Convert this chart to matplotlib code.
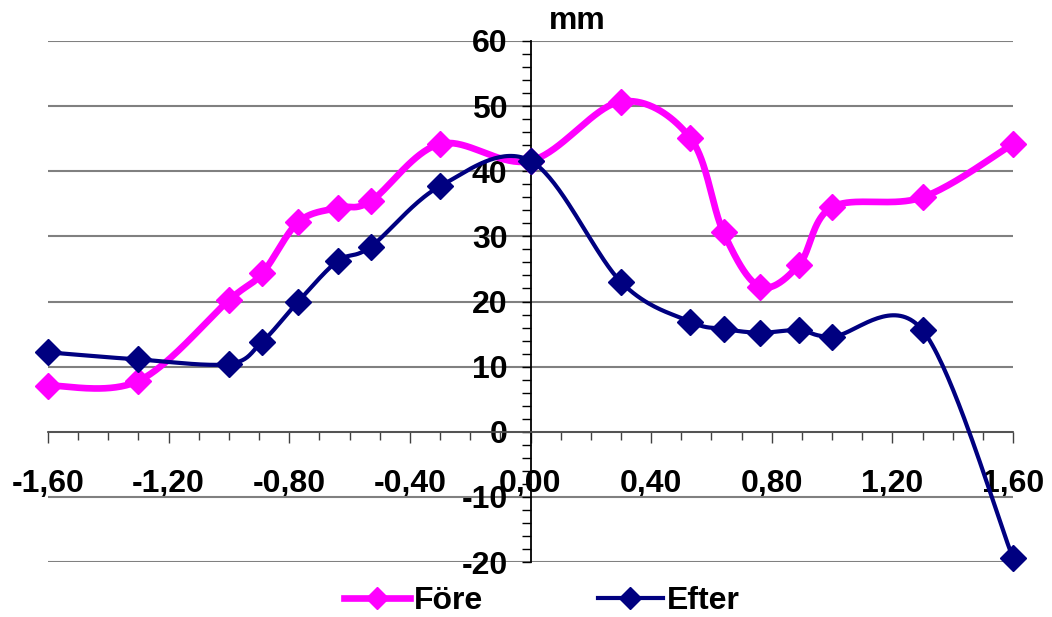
import numpy as np
import matplotlib
matplotlib.use("Agg")
import matplotlib.pyplot as plt
from matplotlib.ticker import MultipleLocator, FuncFormatter

plt.rcParams["font.family"] = ["Liberation Sans", "DejaVu Sans"]
plt.rcParams["font.weight"] = "bold"

# Data
x_vals = [-1.60, -1.30, -1.00, -0.89, -0.77, -0.64, -0.53, -0.30, 0.00,
          0.30, 0.53, 0.64, 0.76, 0.89, 1.00, 1.30, 1.60]
fore = [7.1, 7.8, 20.2, 24.3, 32.2, 34.4, 35.4, 44.2, 41.6,
        50.7, 45.1, 30.6, 22.3, 25.6, 34.5, 36.0, 44.2]
efter = [12.2, 11.1, 10.4, 13.8, 20.0, 26.2, 28.4, 37.7, 41.6,
         23.0, 16.9, 15.8, 15.2, 15.6, 14.6, 15.6, -19.4]


def smooth(xs, ys, n=40):
    # Excel-like smoothed line: Catmull-Rom control points on cubic Beziers
    p = np.column_stack([xs, ys]).astype(float)
    p_ext = np.vstack([p[0], p, p[-1]])
    t = np.linspace(0, 1, n)[:, None]
    out = []
    for i in range(len(p) - 1):
        p0, p3 = p_ext[i + 1], p_ext[i + 2]
        c1 = p0 + (p_ext[i + 2] - p_ext[i]) / 6
        c2 = p3 - (p_ext[i + 3] - p_ext[i + 1]) / 6
        seg = ((1 - t) ** 3) * p0 + 3 * ((1 - t) ** 2) * t * c1 \
            + 3 * (1 - t) * t ** 2 * c2 + t ** 3 * p3
        out.append(seg if i == 0 else seg[1:])
    out = np.vstack(out)
    return out[:, 0], out[:, 1]


fig = plt.figure(figsize=(10.52, 6.17), dpi=100)
ax = fig.add_axes([48 / 1052, 1 - 562 / 617, 965 / 1052, 521 / 617])

pink = "#FF00FF"
navy = "#000080"
fs = 23

sx, sy = smooth(x_vals, fore)
ax.plot(sx, sy, color=pink, lw=4.8, clip_on=False, zorder=3)
ax.plot(x_vals, fore, ls="none", marker="D", ms=13.5, color=pink,
        clip_on=False, zorder=4)
sx, sy = smooth(x_vals, efter)
ax.plot(sx, sy, color=navy, lw=3.0, clip_on=False, zorder=5)
ax.plot(x_vals, efter, ls="none", marker="D", ms=13.5, color=navy,
        clip_on=False, zorder=6)

ax.set_xlim(-1.6, 1.6)
ax.set_ylim(-20, 60)

# Axes crossing at zero
for s in ["top", "right"]:
    ax.spines[s].set_visible(False)
ax.spines["left"].set_position(("data", 0))
ax.spines["bottom"].set_position(("data", 0))
ax.spines["left"].set_color("black")
ax.spines["left"].set_linewidth(1.3)
ax.spines["bottom"].set_color("#505050")
ax.spines["bottom"].set_linewidth(1.3)
ax.spines["left"].set_zorder(2)
ax.spines["bottom"].set_zorder(2)

ax.yaxis.set_major_locator(MultipleLocator(10))
ax.yaxis.set_minor_locator(MultipleLocator(2))
ax.xaxis.set_major_locator(MultipleLocator(0.4))
ax.xaxis.set_minor_locator(MultipleLocator(0.1))

ax.xaxis.set_major_formatter(FuncFormatter(lambda v, _: f"{v:.2f}".replace(".", ",").replace("-0,00", "0,00")))
ax.yaxis.set_major_formatter(FuncFormatter(lambda v, _: f"{v:.0f}"))

ax.tick_params(axis="y", which="both", direction="out", length=6.5, width=1.0,
               color="black", labelsize=fs, pad=10)
ax.tick_params(axis="x", which="major", direction="out", length=8, width=1.0,
               color="#404040", labelsize=fs, pad=19)
ax.tick_params(axis="x", which="minor", direction="out", length=5.5, width=1.0,
               color="#404040")
for lab in ax.get_xticklabels() + ax.get_yticklabels():
    lab.set_fontweight("bold")

ax.yaxis.grid(True, color="#808080", lw=1.5, zorder=0)
ax.set_axisbelow(True)

fig.text(577 / 1052, 1 - 21 / 617, "mm", ha="center", va="center",
         fontsize=fs, fontweight="bold")

h1, = ax.plot([], [], color=pink, lw=4.8, marker="D", ms=11.5, label="Före")
h2, = ax.plot([], [], color=navy, lw=3.0, marker="D", ms=11.5, label="Efter")
fig.legend(handles=[h1, h2], loc="center", ncol=2, frameon=False,
           bbox_to_anchor=(542 / 1052, 1 - 601 / 617), fontsize=fs,
           handlelength=2.05, handletextpad=0.12, columnspacing=3.6,
           borderaxespad=0, borderpad=0)

fig.savefig("out.png", dpi=100)
